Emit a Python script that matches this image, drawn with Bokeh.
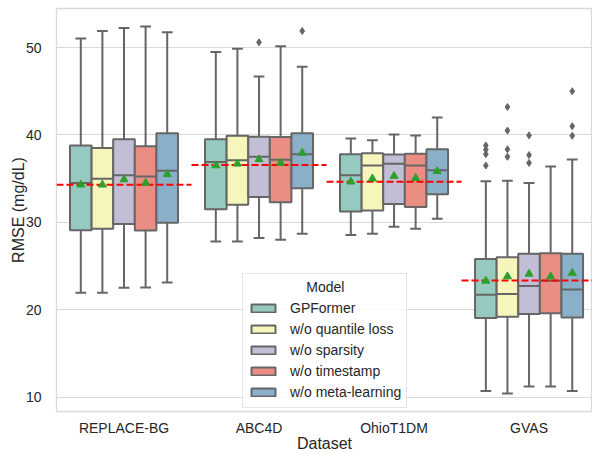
import numpy as np
from bokeh.plotting import figure
from bokeh.models import ColumnDataSource, FixedTicker, Legend, LegendItem
from bokeh.embed import file_html
from bokeh.resources import INLINE

datasets = ["REPLACE-BG", "ABC4D", "OhioT1DM", "GVAS"]
models = ["GPFormer", "w/o quantile loss", "w/o sparsity", "w/o timestamp", "w/o meta-learning"]
colors = ["#96cac1", "#f6f6bc", "#c1bed6", "#ea8e83", "#8aafc9"]

# per model, values across datasets
whislo = {
    "GPFormer":          [21.95, 27.8, 28.55, 10.7],
    "w/o quantile loss": [21.95, 27.8, 28.7, 10.4],
    "w/o sparsity":      [22.5, 28.2, 29.5, 11.2],
    "w/o timestamp":     [22.55, 28.0, 29.25, 11.2],
    "w/o meta-learning": [23.1, 28.7, 30.4, 10.7],
}
q1 = {
    "GPFormer":          [29.1, 31.5, 31.25, 19.05],
    "w/o quantile loss": [29.25, 32.0, 31.35, 19.2],
    "w/o sparsity":      [29.8, 32.9, 32.1, 19.5],
    "w/o timestamp":     [29.05, 32.3, 31.75, 19.6],
    "w/o meta-learning": [29.95, 33.9, 33.2, 19.1],
}
median = {
    "GPFormer":          [34.5, 36.9, 35.4, 21.7],
    "w/o quantile loss": [35.0, 37.1, 36.5, 21.8],
    "w/o sparsity":      [35.4, 37.5, 36.7, 22.7],
    "w/o timestamp":     [35.25, 37.15, 36.5, 23.3],
    "w/o meta-learning": [35.9, 37.8, 35.95, 22.3],
}
q3 = {
    "GPFormer":          [38.8, 39.5, 37.8, 25.8],
    "w/o quantile loss": [38.5, 39.9, 37.9, 26.0],
    "w/o sparsity":      [39.5, 39.8, 37.75, 26.4],
    "w/o timestamp":     [38.7, 39.75, 37.85, 26.45],
    "w/o meta-learning": [40.2, 40.2, 38.35, 26.4],
}
whishi = {
    "GPFormer":          [51.05, 49.5, 39.6, 34.7],
    "w/o quantile loss": [51.9, 49.85, 39.4, 34.75],
    "w/o sparsity":      [52.25, 46.7, 40.05, 34.5],
    "w/o timestamp":     [52.4, 50.15, 39.95, 36.4],
    "w/o meta-learning": [51.75, 47.8, 42.0, 37.2],
}
means = {
    "GPFormer":          [34.3, 36.5, 34.65, 23.3],
    "w/o quantile loss": [34.3, 36.7, 35.0, 23.8],
    "w/o sparsity":      [34.9, 37.2, 35.3, 24.1],
    "w/o timestamp":     [34.5, 36.8, 35.05, 23.8],
    "w/o meta-learning": [35.5, 37.95, 35.85, 24.2],
}
# outliers: (dataset index, value)
outliers = {
    "GPFormer":          [(3, 38.8), (3, 38.3), (3, 37.8), (3, 36.5)],
    "w/o quantile loss": [(3, 43.2), (3, 40.5), (3, 38.35), (3, 37.5)],
    "w/o sparsity":      [(1, 50.6), (3, 39.95), (3, 37.7), (3, 36.8)],
    "w/o timestamp":     [],
    "w/o meta-learning": [(1, 51.9), (3, 45.0), (3, 41.0), (3, 39.9)],
}
# GPFormer mean reference line per dataset
ref_line = [34.3, 36.55, 34.65, 23.33]
legend_title = "Model"

FONT = "Liberation Sans"
TXT = "#262626"
GRAY = "#666666"
GRID = "#d9d9d9"

X_START, X_END = -0.5, 3.47
p = figure(width=592, height=454, x_range=(X_START, X_END), y_range=(8.35, 54.47),
           output_backend="svg", toolbar_location=None,
           min_border_left=56, min_border_right=0, min_border_top=8, min_border_bottom=43)
p.background_fill_color = "white"
p.border_fill_color = "white"
p.outline_line_color = GRID
p.outline_line_width = 1.3

p.xgrid.grid_line_color = None
p.ygrid.grid_line_color = GRID
p.ygrid.grid_line_width = 1.2
p.ygrid.ticker = FixedTicker(ticks=[10, 20, 30, 40, 50])

p.yaxis.ticker = FixedTicker(ticks=[10, 20, 30, 40, 50])
p.xaxis.ticker = FixedTicker(ticks=list(range(len(datasets))))
p.xaxis.major_label_overrides = {i: d for i, d in enumerate(datasets)}
for ax in (p.xaxis, p.yaxis):
    ax.axis_line_color = None
    ax.major_tick_line_color = None
    ax.minor_tick_line_color = None
    ax.major_label_text_font = FONT
    ax.major_label_text_font_size = "14px"
    ax.major_label_text_color = TXT
    ax.axis_label_text_font = FONT
    ax.axis_label_text_font_size = "16px"
    ax.axis_label_text_font_style = "normal"
    ax.axis_label_text_color = TXT
p.xaxis.axis_label = "Dataset"
p.yaxis.axis_label = "RMSE (mg/dL)"
p.xaxis.major_label_standoff = 2
p.xaxis.axis_label_standoff = -4
p.yaxis.major_label_standoff = 9
p.yaxis.axis_label_standoff = -4

n = len(models)
bw = 0.8 / n
box_renderers = []
for j, m in enumerate(models):
    off = -0.4 + bw * (j + 0.5)
    xs = [i + off for i in range(len(datasets))]
    src = ColumnDataSource(dict(
        x=xs, lo=whislo[m], q1=q1[m], med=median[m], q3=q3[m], hi=whishi[m], mean=means[m],
        xl=[x - bw / 2 for x in xs], xr=[x + bw / 2 for x in xs],
        cl=[x - bw / 4 for x in xs], cr=[x + bw / 4 for x in xs],
    ))
    # whiskers
    p.segment(x0="x", y0="q3", x1="x", y1="hi", source=src, line_color=GRAY, line_width=2)
    p.segment(x0="x", y0="q1", x1="x", y1="lo", source=src, line_color=GRAY, line_width=2)
    # caps
    p.segment(x0="cl", y0="hi", x1="cr", y1="hi", source=src, line_color=GRAY, line_width=2)
    p.segment(x0="cl", y0="lo", x1="cr", y1="lo", source=src, line_color=GRAY, line_width=2)
    # boxes
    r = p.vbar(x="x", width=bw, bottom="q1", top="q3", source=src,
               fill_color=colors[j], line_color=GRAY, line_width=2)
    box_renderers.append(r)
    # medians
    p.segment(x0="xl", y0="med", x1="xr", y1="med", source=src, line_color=GRAY, line_width=2)

# reference dashed lines
ref_src = ColumnDataSource(dict(x0=[i - 0.5 for i in range(len(datasets))],
                                x1=[i + 0.5 for i in range(len(datasets))],
                                y=ref_line))
p.segment(x0="x0", y0="y", x1="x1", y1="y", source=ref_src,
          line_color="red", line_width=2, line_dash="7 3")

for j, m in enumerate(models):
    off = -0.4 + bw * (j + 0.5)
    xs = [i + off for i in range(len(datasets))]
    p.scatter(xs, means[m], marker="triangle", size=8, fill_color="#2ca02c", line_color="#2ca02c")
    if outliers[m]:
        ox = [d + off for d, v in outliers[m]]
        oy = [v for d, v in outliers[m]]
        p.scatter(ox, oy, marker="diamond", size=7, fill_color=GRAY, line_color=GRAY)

# the legend title is left-aligned in Bokeh; non-breaking spaces center it like matplotlib
legend = Legend(items=[LegendItem(label=m, renderers=[box_renderers[j]]) for j, m in enumerate(models)],
                location=(186, 3), title="\u00a0" * 15 + legend_title,
                title_text_font=FONT, title_text_font_size="14px", title_text_font_style="normal",
                title_text_color=TXT, title_standoff=3,
                label_text_font=FONT, label_text_font_size="14px", label_text_color=TXT,
                glyph_width=30, glyph_height=10, label_standoff=12, label_height=20,
                spacing=1, padding=5, margin=0,
                border_line_color="#cccccc", border_line_width=1,
                background_fill_color="white", background_fill_alpha=0.8)
p.add_layout(legend)

open("out.html", "w").write(file_html(p, INLINE))
